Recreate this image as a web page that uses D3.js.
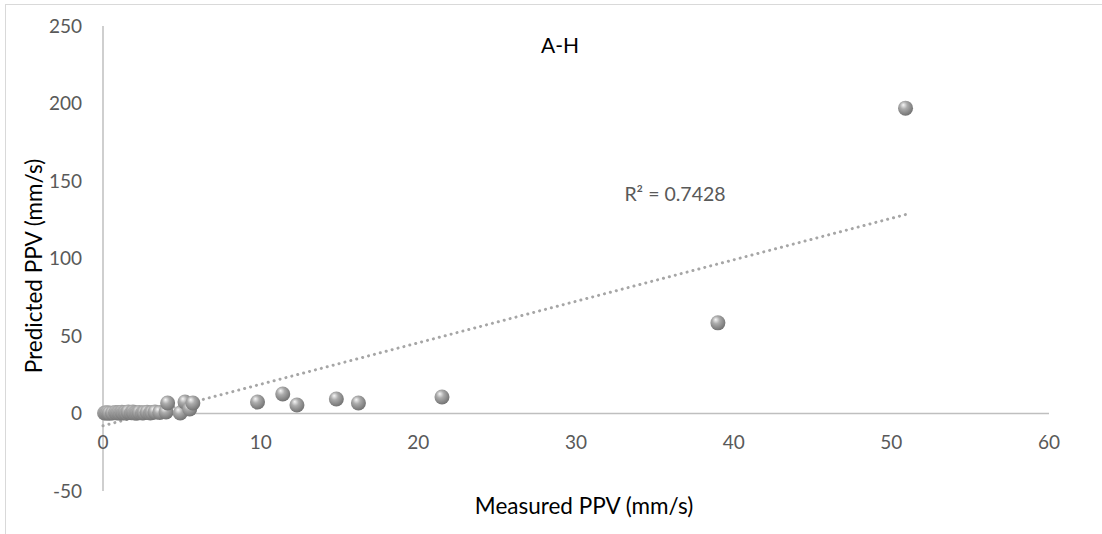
<!DOCTYPE html>
<html>
<head>
<meta charset="utf-8">
<script src="https://cdn.jsdelivr.net/npm/d3@7"></script>
<style>
  body { margin: 0; background: #fff; }
  svg { display: block; font-family: Lato, "Open Sans", sans-serif; }
</style>
</head>
<body>
<svg id="vis" width="1102" height="534"></svg>
<script>
// measured vs predicted PPV (mm/s)
// (the cluster near the origin has many overlapping points)
var measured  = [0.1, 0.2, 0.3, 0.4, 0.6, 0.8, 0.9, 1.0, 1.1, 1.2, 1.3, 1.4, 1.5, 1.6, 1.8, 1.9,
                 2.0, 2.1, 2.2, 2.3, 2.5, 2.6, 2.8, 3.0, 3.1, 3.3, 3.6, 4.0, 4.1, 4.9, 5.2, 5.5, 5.7,
                 9.8, 11.4, 12.3, 14.8, 16.2, 21.5, 39.0, 50.9];
var predicted = [0.3, 0.4, 0.5, 0.2, 0.3, 0.6, 0.3, 0.5, 0.3, 0.8, 0.4, 0.6, 0.3, 1.0, 0.5, 0.9,
                 0.3, 0.3, 0.4, 0.7, 0.3, 0.5, 0.8, 0.3, 0.6, 0.9, 0.7, 1.0, 6.8, 0.3, 7.4, 2.9, 6.8,
                 7.4, 12.6, 5.5, 9.4, 6.8, 10.6, 58.5, 197];
var xTicks = [0, 10, 20, 30, 40, 50, 60];
var yTicks = [-50, 0, 50, 100, 150, 200, 250];
var chartTitle = "A-H";
var r2Label = "R\u00b2 = 0.7428";

var svg = d3.select("#vis");

// chart frame
svg.append("rect")
    .attr("x", 5.5).attr("y", 4.5)
    .attr("width", 1200).attr("height", 600)
    .attr("fill", "none")
    .attr("stroke", "#d9d9d9");

var xScale = d3.scaleLinear().domain([0, 60]).range([103, 1049]);
var yScale = d3.scaleLinear().domain([-50, 250]).range([491, 26]);

// gradient for the marbles
var defs = svg.append("defs");
var grad = defs.append("radialGradient")
    .attr("id", "ball")
    .attr("cx", "42%").attr("cy", "38%").attr("r", "62%")
    .attr("fx", "35%").attr("fy", "28%");
grad.append("stop").attr("offset", "0%").attr("stop-color", "#f6f6f6");
grad.append("stop").attr("offset", "40%").attr("stop-color", "#ababab");
grad.append("stop").attr("offset", "100%").attr("stop-color", "#737373");

// axes lines
svg.append("line")
    .attr("x1", xScale(0)).attr("x2", xScale(0))
    .attr("y1", yScale(250)).attr("y2", yScale(-50))
    .attr("stroke", "#bfbfbf").attr("stroke-width", 1.5);
svg.append("line")
    .attr("x1", xScale(0)).attr("x2", xScale(60))
    .attr("y1", yScale(0)).attr("y2", yScale(0))
    .attr("stroke", "#bfbfbf").attr("stroke-width", 1.5);

// tick labels
svg.selectAll(".ylab")
    .data(yTicks)
    .enter()
    .append("text")
    .attr("class", "ylab")
    .attr("x", 82)
    .attr("y", function(d) { return yScale(d); })
    .attr("dy", "0.36em")
    .attr("text-anchor", "end")
    .attr("font-size", 19)
    .attr("fill", "#595959")
    .text(function(d) { return d; });

svg.selectAll(".xlab")
    .data(xTicks)
    .enter()
    .append("text")
    .attr("class", "xlab")
    .attr("x", function(d) { return xScale(d); })
    .attr("y", 449)
    .attr("text-anchor", "middle")
    .attr("font-size", 19)
    .attr("fill", "#595959")
    .text(function(d) { return d; });

// linear trend line (least squares)
var data = measured.map(function(m, i) { return {x: m, y: predicted[i]}; });
var mx = d3.mean(data, function(d) { return d.x; });
var my = d3.mean(data, function(d) { return d.y; });
var sxy = d3.sum(data, function(d) { return (d.x - mx) * (d.y - my); });
var sxx = d3.sum(data, function(d) { return (d.x - mx) * (d.x - mx); });
var slope = sxy / sxx;
var icpt = my - slope * mx;
var x0 = 0, x1 = d3.max(measured);

svg.append("line")
    .attr("x1", xScale(x0)).attr("y1", yScale(icpt + slope * x0))
    .attr("x2", xScale(x1)).attr("y2", yScale(icpt + slope * x1))
    .attr("stroke", "#a6a6a6")
    .attr("stroke-width", 3)
    .attr("stroke-dasharray", "0.1 6")
    .attr("stroke-linecap", "round");

// points
svg.selectAll("circle.pt")
    .data(data)
    .enter()
    .append("circle")
    .attr("class", "pt")
    .attr("cx", function(d) { return xScale(d.x); })
    .attr("cy", function(d) { return yScale(d.y); })
    .attr("r", 7.5)
    .attr("fill", "url(#ball)");

// texts
svg.append("text")
    .attr("x", 560).attr("y", 53)
    .attr("text-anchor", "middle")
    .attr("font-size", 21)
    .attr("fill", "#000")
    .text(chartTitle);

svg.append("text")
    .attr("x", 675).attr("y", 201)
    .attr("text-anchor", "middle")
    .attr("font-size", 19.5)
    .attr("fill", "#595959")
    .text(r2Label);

svg.append("text")
    .attr("x", 584).attr("y", 514)
    .attr("text-anchor", "middle")
    .attr("font-size", 22.5)
    .attr("fill", "#000")
    .text("Measured PPV (mm/s)");

svg.append("text")
    .attr("transform", "translate(42,266) rotate(-90)")
    .attr("text-anchor", "middle")
    .attr("font-size", 22.5)
    .attr("fill", "#000")
    .text("Predicted PPV (mm/s)");
</script>
</body>
</html>
